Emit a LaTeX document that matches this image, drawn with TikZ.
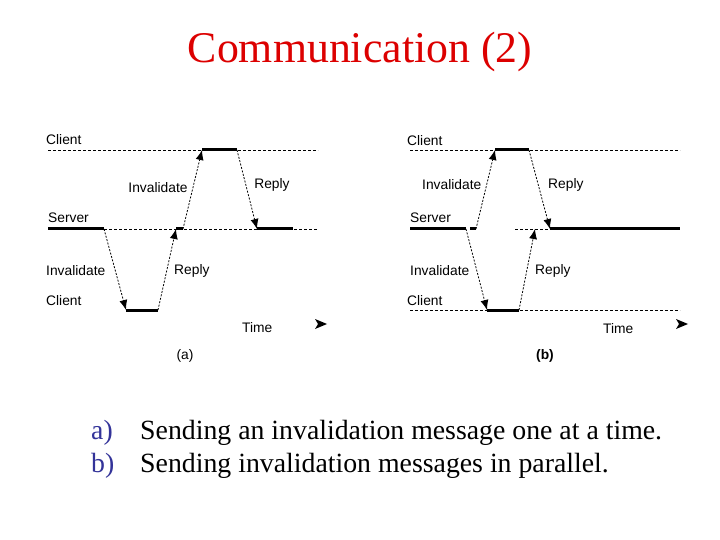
\documentclass[tikz,border=0pt]{standalone}
\usepackage{fontspec}
\setmainfont{Liberation Serif}
\newfontfamily\diafont{Liberation Sans}
\usetikzlibrary{arrows.meta}
\definecolor{titlered}{RGB}{220,0,0}
\definecolor{itemblue}{RGB}{51,51,153}
\begin{document}
\begin{tikzpicture}[x=1pt,y=-1pt,
  lane/.style={dash pattern=on 3pt off 2pt, line width=0.8pt},
  busy/.style={line width=3pt},
  msg/.style={dash pattern=on 2pt off 1.5pt, line width=0.8pt, -{Latex[length=10pt,width=8pt]}},
  lbl/.style={font=\diafont\fontsize{13.8}{16}\selectfont, inner sep=0pt},
  lblw/.style={lbl, anchor=west},
  tip/.style={fill=black}]
\useasboundingbox (0,0) rectangle (720,540);

% title
\node[anchor=base, inner sep=0pt, text=titlered, font=\fontsize{43.8}{50}\selectfont] (title) at (360,63) {Communication (2)};

% ---------- (a) ----------
\coordinate (aCl0) at (48,150);  \coordinate (aCl1) at (318,150);
\coordinate (aC1) at (202,150);  \coordinate (aC2) at (237,150);
\coordinate (aS0) at (48,229);   \coordinate (aS1) at (104,229);
\coordinate (aS2) at (176,229);  \coordinate (aS3) at (183,229);
\coordinate (aS4) at (257,229);  \coordinate (aS5) at (293,229);
\coordinate (aSe) at (318,229);
\coordinate (aB1) at (126,310);  \coordinate (aB2) at (158,310);

\draw[lane] (aCl0) -- (aCl1);
\draw[busy] (aC1) -- (aC2);
\draw[lane] (aS1) -- (aSe);
\draw[busy] (aS0) -- (aS1);
\draw[busy] (aS2) -- (aS3);
\draw[busy] (aS4) -- (aS5);
\draw[busy] (aB1) -- (aB2);

\draw[msg] (aS3) -- (aC1);
\draw[msg] (aC2) -- (aS4);
\draw[msg] (aS1) -- (aB1);
\draw[msg] (aB2) -- (aS2);

\node[lblw] (aLc) at (46,140) {Client};
\node[lbl] (aLi) at (158,188) {Invalidate};
\node[lbl] (aLr) at (272,185) {Reply};
\node[lblw] (aLs) at (48,218) {Server};
\node[lblw] (aLi2) at (46,271) {Invalidate};
\node[lblw] (aLr2) at (174,271) {Reply};
\node[lblw] (aLc2) at (46,301) {Client};
\node[lblw] (aLt) at (242,328) {Time};
\fill[tip] (315,319) -- (327,324) -- (315,329) -- (318,324) -- cycle;
\node[lbl] (aCap) at (185,356) {(a)};

% ---------- (b) ----------
\coordinate (bCl0) at (410,150); \coordinate (bCl1) at (680,150);
\coordinate (bC1) at (495,150);  \coordinate (bC2) at (529,150);
\coordinate (bS0) at (410,229);  \coordinate (bS1) at (466,229);
\coordinate (bS2) at (470,229);  \coordinate (bS3) at (476,229);
\coordinate (bS4) at (515,229);  \coordinate (bS5) at (550,229);
\coordinate (bS6) at (680,229);
\coordinate (bBl0) at (410,310); \coordinate (bBl1) at (680,310);
\coordinate (bB1) at (487,310);  \coordinate (bB2) at (519,310);
\coordinate (bR) at (535,229);

\draw[lane] (bCl0) -- (bCl1);
\draw[busy] (bC1) -- (bC2);
\draw[busy] (bS0) -- (bS1);
\draw[busy] (bS2) -- (bS3);
\draw[lane] (bS4) -- (bS5);
\draw[busy] (bS5) -- (bS6);
\draw[lane] (bBl0) -- (bBl1);
\draw[busy] (bB1) -- (bB2);

\draw[msg] (bS3) -- (bC1);
\draw[msg] (bC2) -- (bS5);
\draw[msg] (bS1) -- (bB1);
\draw[msg] (bB2) -- (bR);

\node[lblw] (bLc) at (407,141) {Client};
\node[lblw] (bLi) at (422,185) {Invalidate};
\node[lblw] (bLr) at (548,185) {Reply};
\node[lblw] (bLs) at (410,218) {Server};
\node[lblw] (bLi2) at (410,271) {Invalidate};
\node[lblw] (bLr2) at (535,271) {Reply};
\node[lblw] (bLc2) at (407,301) {Client};
\node[lblw] (bLt) at (603,329) {Time};
\fill[tip] (676,319) -- (688,324) -- (676,329) -- (679,324) -- cycle;
\node[lbl, font=\diafont\bfseries\fontsize{13.8}{16}\selectfont] (bCap) at (545,356) {(b)};

% ---------- captions ----------
\node[anchor=base west, inner sep=0pt, text=itemblue, font=\fontsize{27.8}{33}\selectfont] (ia) at (91,439) {a)};
\node[anchor=base west, inner sep=0pt, font=\fontsize{27.8}{33}\selectfont] (ta) at (140,439) {Sending an invalidation message one at a time.};
\node[anchor=base west, inner sep=0pt, text=itemblue, font=\fontsize{27.8}{33}\selectfont] (ib) at (91,472) {b)};
\node[anchor=base west, inner sep=0pt, font=\fontsize{27.8}{33}\selectfont] (tb) at (140,472) {Sending invalidation messages in parallel.};
\end{tikzpicture}
\end{document}
